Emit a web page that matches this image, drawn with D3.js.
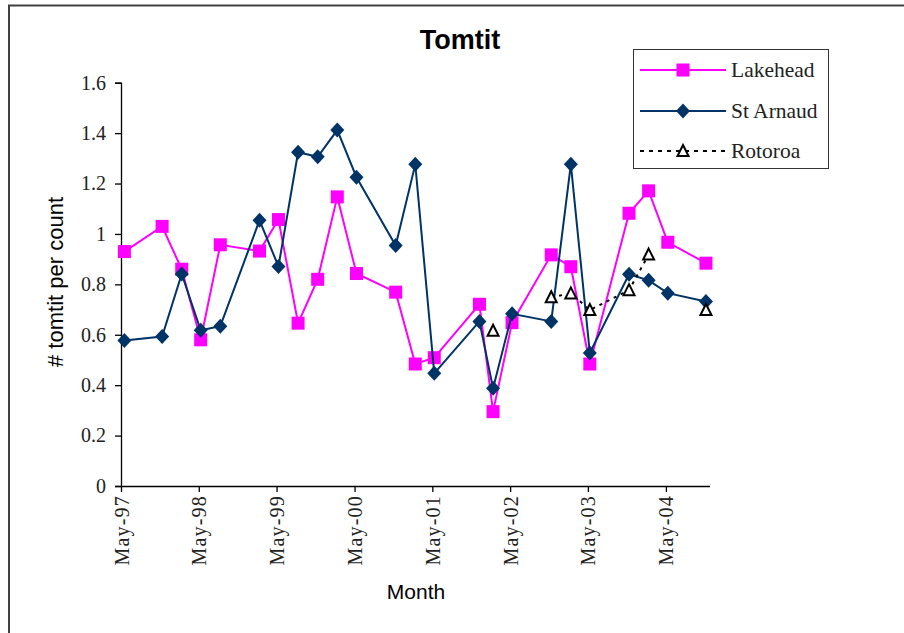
<!DOCTYPE html>
<html>
<head>
<meta charset="utf-8">
<script src="https://cdn.jsdelivr.net/npm/d3@7"></script>
<style>
  body { margin: 0; background: #fff; }
  svg { display: block; }
</style>
</head>
<body>
<div id="chart"></div>
<script>
// survey dates (x axis is a date axis)
let dates = ["1997-05-17", "1997-11-10", "1998-02-10", "1998-05-10", "1998-08-10",
  "1999-02-10", "1999-05-10", "1999-08-10", "1999-11-10", "2000-02-10",
  "2000-05-10", "2000-11-10", "2001-02-10", "2001-05-10", "2001-12-08",
  "2002-02-10", "2002-05-10", "2002-11-10", "2003-02-10", "2003-05-10",
  "2003-11-10", "2004-02-10", "2004-05-10", "2004-11-05"]

let lakehead = [0.93, 1.03, 0.86, 0.58, 0.957, 0.932, 1.057, 0.646, 0.82, 1.147,
  0.843, 0.769, 0.484, 0.509, 0.721, 0.295, 0.648, 0.917, 0.87, 0.484,
  1.082, 1.171, 0.967, 0.884]

let stArnaud = [0.577, 0.593, 0.841, 0.618, 0.634, 1.054, 0.871, 1.324, 1.306, 1.412,
  1.225, 0.954, 1.276, 0.447, 0.653, 0.388, 0.683, 0.653, 1.276, 0.528,
  0.84, 0.816, 0.765, 0.732]

let rotoroa = [null, null, null, null, null, null, null, null, null, null,
  null, null, null, null, null, 0.616, null, 0.749, 0.764, 0.698,
  0.777, 0.918, null, 0.698]

let seriesNames = ["Lakehead", "St Arnaud", "Rotoroa"]
let yTicks = [0, 0.2, 0.4, 0.6, 0.8, 1, 1.2, 1.4, 1.6]
let xTickDates = ["1997-05-01", "1998-05-01", "1999-05-01", "2000-05-01",
  "2001-05-01", "2002-05-01", "2003-05-01", "2004-05-01"]
let xExtent = ["1997-05-01", "2004-11-24"]

let width = 904
let height = 633
let parse = d3.timeParse("%Y-%m-%d")

let svg = d3.select("#chart")
  .append("svg")
  .attr("width", width)
  .attr("height", height)

// outer frame (top and left edges visible)
svg.append("path")
  .attr("d", "M9,640 L9,5.5 L910,5.5")
  .attr("fill", "none")
  .attr("stroke", "#404040")
  .attr("stroke-width", 2)

let x = d3.scaleTime()
  .domain(xExtent.map(parse))
  .range([121, 710])

let y = d3.scaleLinear()
  .domain([0, 1.6])
  .range([486, 82.7])

// y axis
let yAxis = svg.append("g")
  .attr("transform", "translate(121,0)")
  .call(d3.axisLeft(y).tickValues(yTicks).tickSize(6).tickPadding(9)
    .tickFormat(d3.format("")))
yAxis.select(".domain").attr("stroke", "#000").attr("stroke-width", 1.3)
yAxis.selectAll(".tick line").attr("stroke", "#000").attr("stroke-width", 1.3)
yAxis.selectAll(".tick text")
  .attr("font-family", "'Liberation Serif', serif")
  .attr("font-size", 20)
  .attr("fill", "#222")

// x axis
let xAxis = svg.append("g")
  .attr("transform", "translate(0,486)")
  .call(d3.axisBottom(x).tickValues(xTickDates.map(parse)).tickSize(6)
    .tickFormat(d3.timeFormat("%b-%y")))
xAxis.select(".domain").attr("stroke", "#000").attr("stroke-width", 1.3)
  .attr("d", "M121,0.5H710")
xAxis.selectAll(".tick line").attr("stroke", "#000").attr("stroke-width", 1.3)
xAxis.selectAll(".tick text")
  .attr("font-family", "'Liberation Serif', serif")
  .attr("font-size", 20)
  .attr("letter-spacing", 1.2)
  .attr("fill", "#222")
  .attr("text-anchor", "end")
  .attr("dy", null)
  .attr("y", 0)
  .attr("transform", "translate(7,9) rotate(-90)")

// series
let lineFor = (vals) => d3.line()
  .defined((d, i) => vals[i] != null)
  .x((d) => x(parse(d)))
  .y((d, i) => y(vals[i]))(dates)

svg.append("path")
  .attr("d", lineFor(lakehead))
  .attr("fill", "none")
  .attr("stroke", "#ff00ff")
  .attr("stroke-width", 2)

svg.selectAll(".sq")
  .data(dates)
  .enter()
  .append("rect")
  .attr("x", (d) => x(parse(d)) - 6.5)
  .attr("y", (d, i) => y(lakehead[i]) - 6.5)
  .attr("width", 13)
  .attr("height", 13)
  .attr("fill", "#ff00ff")

svg.append("path")
  .attr("d", lineFor(stArnaud))
  .attr("fill", "none")
  .attr("stroke", "#003366")
  .attr("stroke-width", 2)

let diamond = "M0,-7.5L7,0L0,7.5L-7,0Z"
svg.selectAll(".dm")
  .data(dates)
  .enter()
  .append("path")
  .attr("d", diamond)
  .attr("transform", (d, i) => "translate(" + x(parse(d)) + "," + y(stArnaud[i]) + ")")
  .attr("fill", "#003366")

svg.append("path")
  .attr("d", lineFor(rotoroa))
  .attr("fill", "none")
  .attr("stroke", "#000")
  .attr("stroke-width", 2)
  .attr("stroke-dasharray", "3,5")

let triangle = "M0,-6L5.5,5L-5.5,5Z"
svg.selectAll(".tr")
  .data(dates.filter((d, i) => rotoroa[i] != null))
  .enter()
  .append("path")
  .attr("d", triangle)
  .attr("transform", (d) => "translate(" + x(parse(d)) + "," + y(rotoroa[dates.indexOf(d)]) + ")")
  .attr("fill", "#fff")
  .attr("stroke", "#000")
  .attr("stroke-width", 2)

// titles
svg.append("text")
  .attr("x", 460)
  .attr("y", 49)
  .attr("text-anchor", "middle")
  .attr("font-family", "'Liberation Sans', Arial, sans-serif")
  .attr("font-weight", "bold")
  .attr("font-size", 27)
  .text("Tomtit")

svg.append("text")
  .attr("transform", "translate(63,282) rotate(-90)")
  .attr("text-anchor", "middle")
  .attr("font-family", "'Liberation Sans', Arial, sans-serif")
  .attr("font-size", 22)
  .text("# tomtit per count")

svg.append("text")
  .attr("x", 416)
  .attr("y", 599)
  .attr("text-anchor", "middle")
  .attr("font-family", "'Liberation Sans', Arial, sans-serif")
  .attr("font-size", 21)
  .text("Month")

// legend
let legend = svg.append("g")
legend.append("rect")
  .attr("x", 633.5)
  .attr("y", 49.5)
  .attr("width", 195)
  .attr("height", 119)
  .attr("fill", "#fff")
  .attr("stroke", "#333")
  .attr("stroke-width", 1)

let rows = [70, 111, 151]
let legendStyles = [
  { stroke: "#ff00ff", dash: null },
  { stroke: "#003366", dash: null },
  { stroke: "#000", dash: "4,5" }
]
seriesNames.forEach((name, i) => {
  legend.append("line")
    .attr("x1", 640).attr("x2", 726)
    .attr("y1", rows[i]).attr("y2", rows[i])
    .attr("stroke", legendStyles[i].stroke)
    .attr("stroke-width", 2)
    .attr("stroke-dasharray", legendStyles[i].dash)
  legend.append("text")
    .attr("x", 731)
    .attr("y", rows[i] + 7)
    .attr("font-family", "'Liberation Serif', serif")
    .attr("font-size", 21.5)
    .attr("fill", "#222")
    .text(name)
})
legend.append("rect")
  .attr("x", 683 - 6.5).attr("y", rows[0] - 6.5)
  .attr("width", 13).attr("height", 13)
  .attr("fill", "#ff00ff")
legend.append("path")
  .attr("d", diamond)
  .attr("transform", "translate(683," + rows[1] + ")")
  .attr("fill", "#003366")
legend.append("path")
  .attr("d", triangle)
  .attr("transform", "translate(683," + rows[2] + ")")
  .attr("fill", "#fff")
  .attr("stroke", "#000")
  .attr("stroke-width", 2)
</script>
</body>
</html>
